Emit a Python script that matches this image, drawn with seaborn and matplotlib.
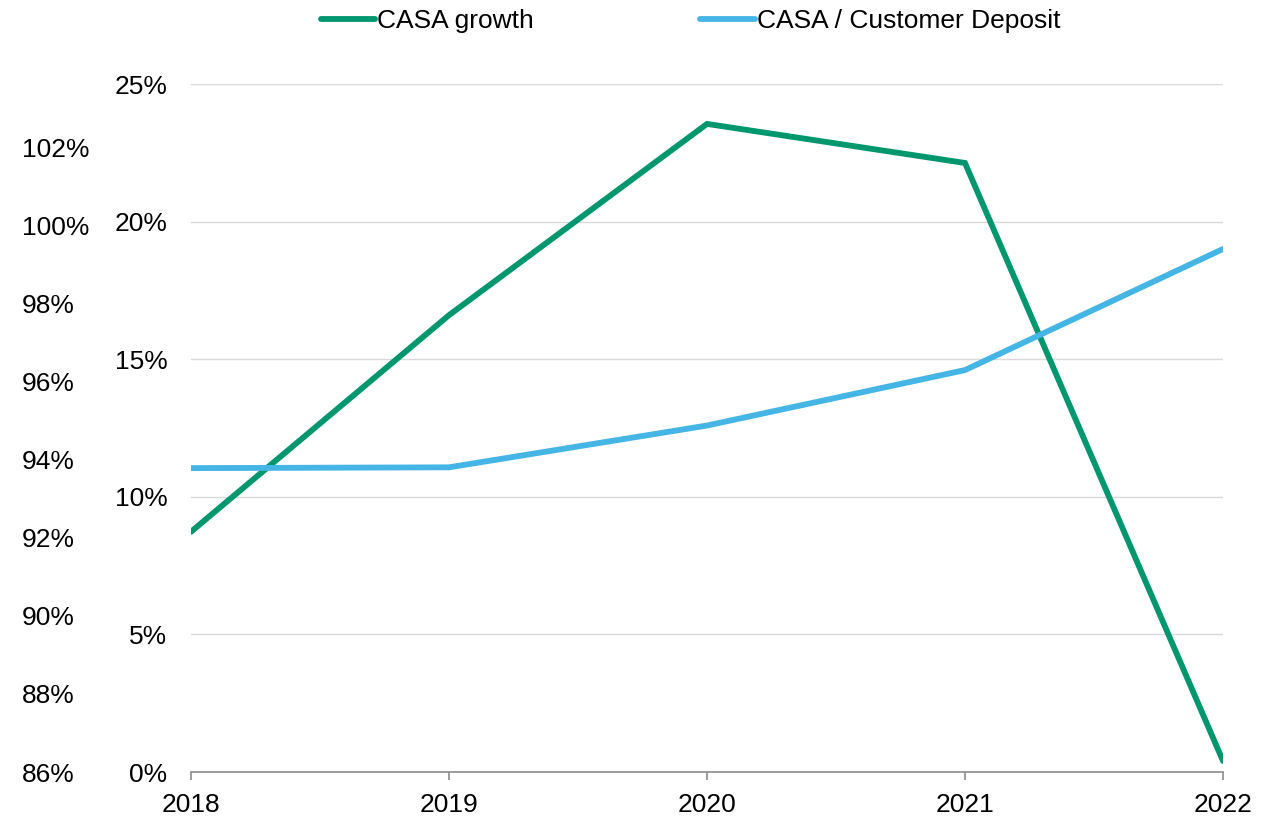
import matplotlib
matplotlib.use("Agg")
import matplotlib.pyplot as plt
from matplotlib.lines import Line2D
from matplotlib.ticker import FuncFormatter
import seaborn as sns
import pandas as pd

years = [2018, 2019, 2020, 2021, 2022]
casa_growth = [8.73, 16.6, 23.55, 22.13, 0.40]          # %, inner left axis
casa_to_deposit = [93.78, 93.80, 94.87, 96.29, 99.39]   # %, outer left axis

growth_ticks = [0, 5, 10, 15, 20, 25]
ratio_ticks = [86, 88, 90, 92, 94, 96, 98, 100, 102]

GREEN = "#00976F"
BLUE = "#44B5E5"
FS = 19
LW = 4.2

sns.set_theme(style="white")
plt.rcParams["font.family"] = ["Liberation Sans", "DejaVu Sans"]

df = pd.DataFrame({"year": years, "growth": casa_growth, "ratio": casa_to_deposit})

fig = plt.figure(figsize=(12.79, 8.18), dpi=100)
ax = fig.add_axes([191 / 1279, 46 / 818, (1223 - 191) / 1279, (773 - 85) / 818])
ax2 = ax.twinx()

sns.lineplot(data=df, x="year", y="growth", ax=ax, color=GREEN, linewidth=LW,
             legend=False, zorder=3)
sns.lineplot(data=df, x="year", y="ratio", ax=ax2, color=BLUE, linewidth=LW,
             legend=False, zorder=3)
for a in (ax, ax2):
    for ln in a.get_lines():
        ln.set_solid_capstyle("round")
        ln.set_solid_joinstyle("miter")

ax.set_xlim(2018, 2022)
ax.set_xticks(years)
ax.set_ylim(0, 25)
ax.set_yticks(growth_ticks)
ax2.set_ylim(86, 86 + (773 - 85) / 39.06)
ax2.set_yticks(ratio_ticks)

pct = FuncFormatter(lambda v, _: f"{v:.0f}%")
ax.yaxis.set_major_formatter(pct)
ax2.yaxis.set_major_formatter(pct)

ax2.yaxis.set_ticks_position("left")
ax2.yaxis.set_label_position("left")

for a in (ax, ax2):
    a.set_xlabel("")
    a.set_ylabel("")
    for s in ("top", "right", "left", "bottom"):
        a.spines[s].set_visible(False)

ax.spines["bottom"].set_visible(True)
ax.spines["bottom"].set_color("#8c8c8c")
ax.spines["bottom"].set_linewidth(1.2)

ax.yaxis.grid(True, color="#d9d9d9", linewidth=1.0)
ax.set_axisbelow(True)

ax.tick_params(axis="y", length=0, pad=17, labelsize=FS, labelcolor="#000000")
# outer scale: labels left-aligned in a column at the figure's left edge
ax2.tick_params(axis="y", length=0, pad=(191 - 22) * 72 / 100, labelsize=FS,
                labelcolor="#000000")
for lbl in ax2.get_yticklabels():
    lbl.set_horizontalalignment("left")
ax.tick_params(axis="x", length=6, width=1.2, color="#8c8c8c", direction="out",
               bottom=True, pad=9, labelsize=FS, labelcolor="#000000")

handles = [Line2D([], [], color=GREEN, linewidth=LW, solid_capstyle="round"),
           Line2D([], [], color=BLUE, linewidth=LW, solid_capstyle="round")]
fig.legend(handles, ["CASA growth", "CASA / Customer Deposit"], loc="upper center",
           bbox_to_anchor=(0.54, 1.018), ncol=2, frameon=False, fontsize=FS,
           handlelength=2.05, handletextpad=0.1, columnspacing=6.3,
           labelcolor="#000000")

fig.savefig("out.png", dpi=100)
